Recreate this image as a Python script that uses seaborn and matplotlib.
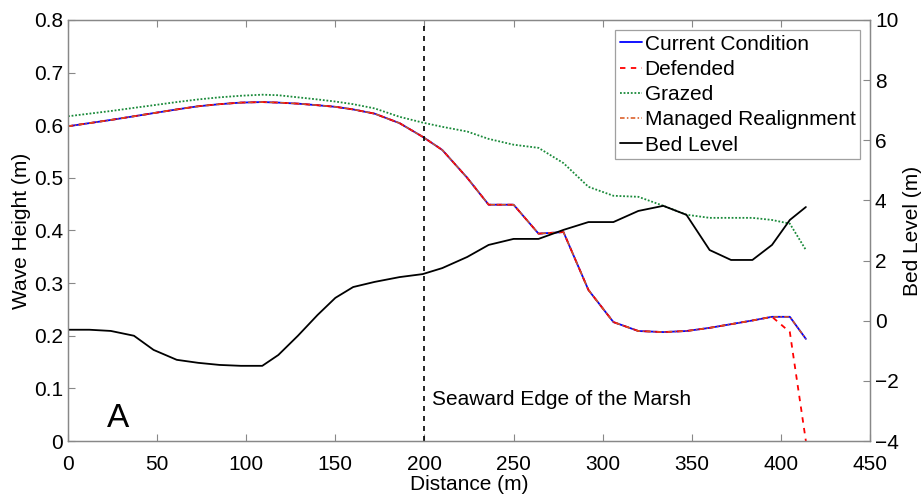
import matplotlib
matplotlib.use("Agg")
import matplotlib.pyplot as plt
import seaborn as sns
import pandas as pd
import numpy as np

sns.set_style("ticks")
plt.rcParams["font.family"] = ["Liberation Sans", "DejaVu Sans"]
plt.rcParams["text.color"] = "black"
plt.rcParams["axes.labelcolor"] = "black"

# distance along transect (m)
distance = [0, 12, 24, 37, 48, 61, 73, 85, 97, 109, 118, 129, 140, 150, 160, 172, 186, 199,
            210, 224, 236, 250, 264, 278, 292, 306, 320, 334, 347, 360, 372, 384, 395, 405, 414]

current = [0.598, 0.604, 0.610, 0.617, 0.623, 0.630, 0.636, 0.640, 0.643, 0.644, 0.643, 0.641,
           0.638, 0.635, 0.630, 0.622, 0.604, 0.578, 0.553, 0.500, 0.449, 0.449, 0.394, 0.397,
           0.287, 0.226, 0.209, 0.207, 0.209, 0.215, 0.222, 0.229, 0.236, 0.236, 0.194]

defended = [0.598, 0.604, 0.610, 0.617, 0.623, 0.630, 0.636, 0.640, 0.643, 0.644, 0.643, 0.641,
            0.638, 0.635, 0.630, 0.622, 0.604, 0.578, 0.553, 0.500, 0.449, 0.449, 0.394, 0.397,
            0.287, 0.226, 0.209, 0.207, 0.209, 0.215, 0.222, 0.229, 0.236, 0.207, 0.0]

grazed = [0.617, 0.622, 0.627, 0.633, 0.638, 0.644, 0.649, 0.653, 0.656, 0.658, 0.657, 0.653,
          0.649, 0.645, 0.640, 0.632, 0.616, 0.605, 0.597, 0.588, 0.574, 0.563, 0.557, 0.528,
          0.483, 0.466, 0.464, 0.447, 0.430, 0.424, 0.424, 0.424, 0.420, 0.413, 0.363]

managed = [0.598, 0.604, 0.610, 0.617, 0.623, 0.630, 0.636, 0.640, 0.643, 0.644, 0.643, 0.641,
           0.638, 0.635, 0.630, 0.622, 0.604, 0.578, 0.553, 0.500, 0.449, 0.449, 0.394, 0.397,
           0.287, 0.226, 0.209, 0.207, 0.209, 0.215, 0.222, 0.229, 0.236, 0.236, 0.194]

bed_level = [-0.30, -0.30, -0.34, -0.50, -0.97, -1.30, -1.40, -1.47, -1.50, -1.50, -1.14, -0.50,
             0.19, 0.76, 1.12, 1.29, 1.45, 1.55, 1.75, 2.12, 2.52, 2.72, 2.72, 3.02, 3.28, 3.28,
             3.65, 3.82, 3.52, 2.35, 2.02, 2.02, 2.52, 3.35, 3.78]

df = pd.DataFrame({"distance": distance, "current": current, "defended": defended,
                   "grazed": grazed, "managed": managed, "bed": bed_level})

FS = 15

fig = plt.figure(figsize=(9.24, 4.99), dpi=100)
ax = fig.add_axes([0.0736, 0.1162, 0.868, 0.8438])
ax2 = ax.twinx()

sns.lineplot(data=df, x="distance", y="current", ax=ax, color="#0000ff", lw=1.3,
             label="Current Condition", legend=False)
sns.lineplot(data=df, x="distance", y="defended", ax=ax, color="#ff0000", lw=1.3,
             linestyle=(0, (3, 3)), label="Defended", legend=False)
sns.lineplot(data=df, x="distance", y="grazed", ax=ax, color="#1a8a3a", lw=1.3,
             linestyle=(0, (1, 1)), label="Grazed", legend=False)
sns.lineplot(data=df, x="distance", y="managed", ax=ax, color="#d95319", lw=1.1,
             linestyle=(0, (3, 1.5, 1, 1.5)), label="Managed Realignment", legend=False)
sns.lineplot(data=df, x="distance", y="bed", ax=ax2, color="black", lw=1.3,
             label="Bed Level", legend=False)

ax.axvline(200, color="black", ls=(0, (3, 3)), lw=1.2)
ax.text(204, 0.078, "Seaward Edge of the Marsh", fontsize=FS, va="center")
ax.text(22, 0.042, "A", fontsize=24, va="center")

ax.set_xlim(0, 450)
ax.set_ylim(0, 0.8)
ax2.set_ylim(-4, 10)
ax.set_xticks(range(0, 451, 50))
ax.set_yticks(np.arange(0, 0.81, 0.1))
ax.set_yticklabels([f"{v:g}" for v in np.round(np.arange(0, 0.81, 0.1), 1)])
ax2.set_yticks(range(-4, 11, 2))

ax.set_xlabel("Distance (m)", fontsize=FS, labelpad=1)
ax.set_ylabel("Wave Height (m)", fontsize=FS, labelpad=2)
ax2.set_ylabel("Bed Level (m)", fontsize=FS, labelpad=3)

for a in (ax, ax2):
    for s in a.spines.values():
        s.set_color("#888888")
        s.set_linewidth(0.9)
    a.tick_params(direction="in", length=5, color="#888888", labelsize=FS, width=0.8,
                  labelcolor="black")
ax.tick_params(top=True, right=False)
ax.tick_params(axis="x", pad=10)

h1, l1 = ax.get_legend_handles_labels()
h2, l2 = ax2.get_legend_handles_labels()
leg = ax2.legend(h1 + h2, l1 + l2, loc="upper right", fontsize=FS, frameon=True,
                 fancybox=False, handlelength=1.1, handletextpad=0.1,
                 borderaxespad=0.5, borderpad=0.2, labelspacing=0.3)
leg.get_frame().set_edgecolor("#888888")
leg.get_frame().set_linewidth(0.9)

fig.savefig("out.png", dpi=100)
